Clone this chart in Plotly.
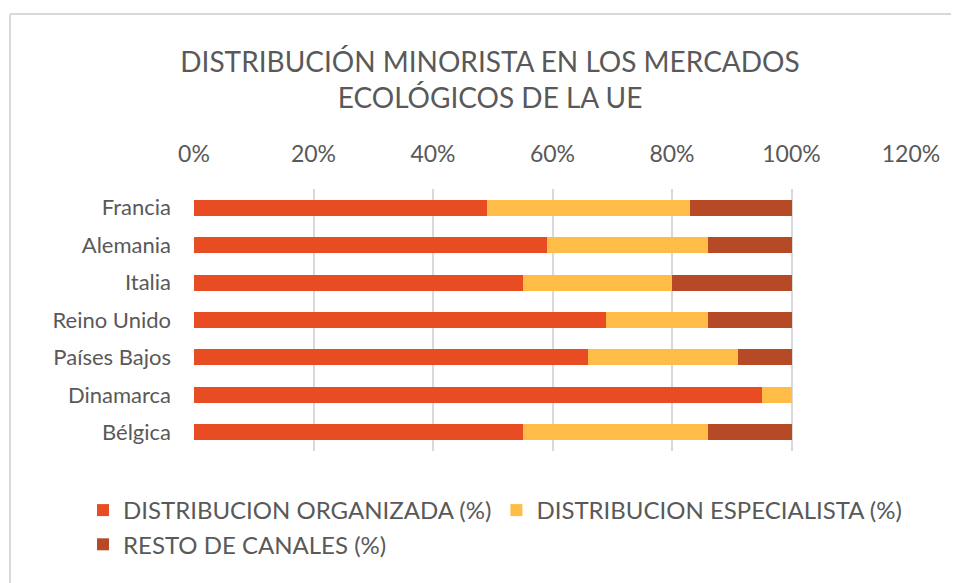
import plotly.graph_objects as go

categories = ["Francia", "Alemania", "Italia", "Reino Unido", "Países Bajos", "Dinamarca", "Bélgica"]
organizada = [49, 59, 55, 69, 66, 95, 55]
especialista = [34, 27, 25, 17, 25, 5, 31]
resto = [17, 14, 20, 14, 9, 0, 14]
series_names = ["DISTRIBUCION ORGANIZADA (%)", "DISTRIBUCION ESPECIALISTA (%)", "RESTO DE CANALES (%)"]
colors = ["#E84C22", "#FFBD47", "#B74A26"]
tick_vals = [0, 20, 40, 60, 80, 100, 120]
tick_text = ["0%", "20%", "40%", "60%", "80%", "100%", "120%"]

FONT = "Lato"
TXT = "#595959"

fig = go.Figure()
for name, vals, col in zip(series_names, [organizada, especialista, resto], colors):
    fig.add_trace(go.Bar(
        y=categories, x=vals, name=name, orientation="h",
        marker=dict(color=col, line=dict(width=0)), width=0.43,
    ))

# the page has an 8px body margin, so the figure is drawn 8px smaller
W, H = 951, 575
L, R, T, B = 186, 48, 181, 132
pw, ph = W - L - R, H - T - B

fig.update_layout(
    width=W, height=H,
    barmode="stack",
    paper_bgcolor="white", plot_bgcolor="white",
    margin=dict(l=L, r=R, t=T, b=B, autoexpand=False),
    font=dict(family=FONT, color=TXT),
    title=dict(
        text="DISTRIBUCIÓN MINORISTA EN LOS MERCADOS<br>ECOLÓGICOS DE LA UE",
        x=482 / W, xanchor="center", y=1 - 64 / H, yanchor="middle",
        font=dict(size=28, color=TXT, family=FONT),
    ),
    xaxis=dict(
        side="top", range=[0, 120], tickvals=tick_vals, ticktext=tick_text,
        showgrid=True, gridcolor="#D9D9D9", gridwidth=2, zeroline=False,
        tickfont=dict(size=23, color=TXT, family=FONT), ticks="", ticklabelstandoff=21,
        showline=False, fixedrange=True,
    ),
    yaxis=dict(
        autorange="reversed", tickfont=dict(size=22, color=TXT, family=FONT),
        ticks="", showline=False, showgrid=False, ticklabelstandoff=22,
    ),
    legend=dict(
        orientation="h", x=(75 - L) / pw, xanchor="left", y=-(480 - (T + ph)) / ph,
        yanchor="top", font=dict(size=24, color=TXT, family=FONT),
        itemwidth=30, tracegroupgap=0, traceorder="normal",
    ),
    showlegend=True,
    bargap=0.57,
)

# chart frame (only top and left edges visible in the cropped reference)
top_y = (T + ph - 6) / ph
left_x = (2 - L) / pw
fig.add_shape(type="line", xref="paper", yref="paper",
              x0=left_x, x1=(W - L) / pw, y0=top_y, y1=top_y,
              line=dict(color="#D9D9D9", width=2))
fig.add_shape(type="line", xref="paper", yref="paper",
              x0=left_x, x1=left_x, y0=top_y, y1=-(H - T - ph) / ph,
              line=dict(color="#D9D9D9", width=2))

fig.write_html("out.html")
